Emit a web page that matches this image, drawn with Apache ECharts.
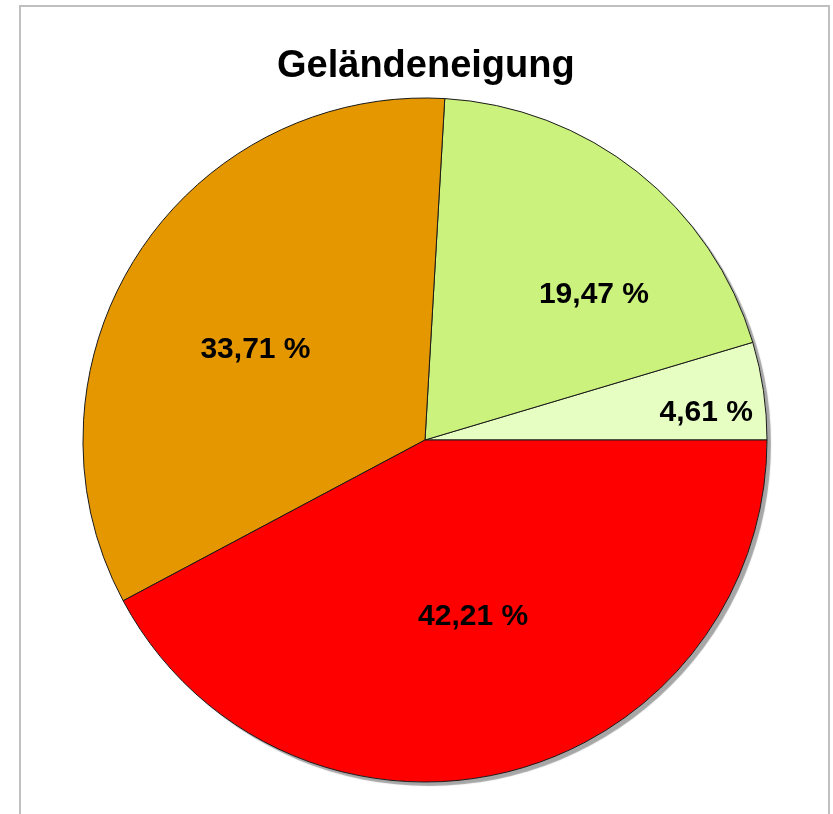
<!DOCTYPE html>
<html>
<head>
<meta charset="utf-8">
<style>
  html, body { margin: 0; padding: 0; background: #fff; }
  #chart { width: 833px; height: 814px; }
</style>
<script src="https://cdn.jsdelivr.net/npm/echarts@6/dist/echarts.min.js"></script>
</head>
<body>
<div id="chart"></div>
<script>
const categories = ['Klasse 1', 'Klasse 2', 'Klasse 3', 'Klasse 4'];
const values = [4.61, 19.47, 33.71, 42.21];
const colors = ['#E7FEC2', '#CCF27E', '#E59700', '#FF0000'];
// label nudges, the source doesn't put them at the plain middle
const labelOffsets = [[109, -2], [61, -9], [-23, 4], [6, 8]];

const total = values.reduce((a, b) => a + b, 0);

const chart = echarts.init(document.getElementById('chart'));
const option = {
  animation: false,
  title: {
    text: 'Geländeneigung',
    left: 272,
    top: 43,
    textStyle: {
      fontFamily: 'Liberation Sans',
      fontSize: 38,
      fontWeight: 'bold',
      color: '#000'
    }
  },
  graphic: [{
    type: 'rect',
    shape: { x: 20, y: 6, width: 809, height: 900 },
    style: { fill: 'none', stroke: '#C0C0C0', lineWidth: 2 },
    silent: true
  }],
  series: [
    {
      // shadow disc under the slices
      type: 'pie',
      silent: true,
      center: [425, 440],
      radius: 342,
      z: 1,
      label: { show: false },
      labelLine: { show: false },
      itemStyle: {
        color: '#fff',
        shadowColor: 'rgba(0,0,0,0.35)',
        shadowBlur: 1,
        shadowOffsetX: 4,
        shadowOffsetY: 4
      },
      data: [{ value: total, name: 'Summe' }]
    },
    {
      type: 'pie',
      center: [425, 440],
      radius: 342,
      z: 2,
      startAngle: 0,
      clockwise: false,
      itemStyle: {
        borderColor: '#1a1a1a',
        borderWidth: 1
      },
      label: {
        show: true,
        position: 'inside',
        fontFamily: 'Liberation Sans',
        fontSize: 30,
        fontWeight: 'bold',
        color: '#000',
        formatter: p => p.value.toFixed(2).replace('.', ',') + ' %'
      },
      labelLine: { show: false },
      data: values.map((v, i) => ({
        value: v,
        name: categories[i],
        itemStyle: { color: colors[i] },
        label: { offset: labelOffsets[i] }
      }))
    }
  ]
};
chart.setOption(option);
</script>
</body>
</html>
